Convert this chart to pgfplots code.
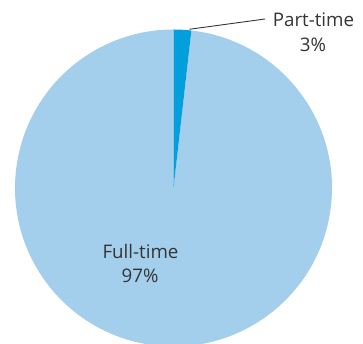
\documentclass[border=0pt]{standalone}
\usepackage{pgfplots}
\usepackage{pgfplotstable}
\pgfplotsset{compat=1.18}
\usepackage{fontspec}
\setmainfont{Open Sans}
\definecolor{fulltime}{HTML}{A3CEEC}
\definecolor{parttime}{HTML}{039FDC}
\definecolor{txt}{HTML}{353535}
% share of the pie (geometry as drawn in the reference)
\pgfplotstableread{
label share
Part-time 1.8
Full-time 98.2
}\piedata
\begin{document}
\begin{tikzpicture}
\pgfplotstablegetelem{0}{share}\of\piedata
\let\partshare\pgfplotsretval
\pgfmathsetmacro{\partend}{90-3.6*\partshare}
\begin{axis}[
  at={(0,0)}, anchor=south west,
  width=363bp, height=344bp, scale only axis,
  xmin=0, xmax=363, ymin=0, ymax=344,
  hide axis, clip=true,
]
\fill[fulltime] (axis cs:173.5,156) -- ++(\partend:158.5bp) arc[start angle=\partend, end angle=-270, radius=158.5bp] -- cycle;
\fill[parttime] (axis cs:173.5,156) -- ++(90:158.5bp) arc[start angle=90, end angle=\partend, radius=158.5bp] -- cycle;
\draw[txt, line width=0.9bp] (axis cs:189.3,314.7) -- (axis cs:265,325);
\node[anchor=base, text=txt, font=\fontsize{18.8}{22}\selectfont] at (axis cs:313.5,317) {Part-time};
\node[anchor=base, text=txt, font=\fontsize{18.8}{22}\selectfont] at (axis cs:313,292) {3\%};
\node[anchor=base, text=txt, font=\fontsize{18.8}{22}\selectfont] at (axis cs:140.5,85) {Full-time};
\node[anchor=base, text=txt, font=\fontsize{18.8}{22}\selectfont] at (axis cs:140,61) {97\%};
\end{axis}
\pgfresetboundingbox
\useasboundingbox (0,0) rectangle (363bp,344bp);
\end{tikzpicture}
\end{document}
